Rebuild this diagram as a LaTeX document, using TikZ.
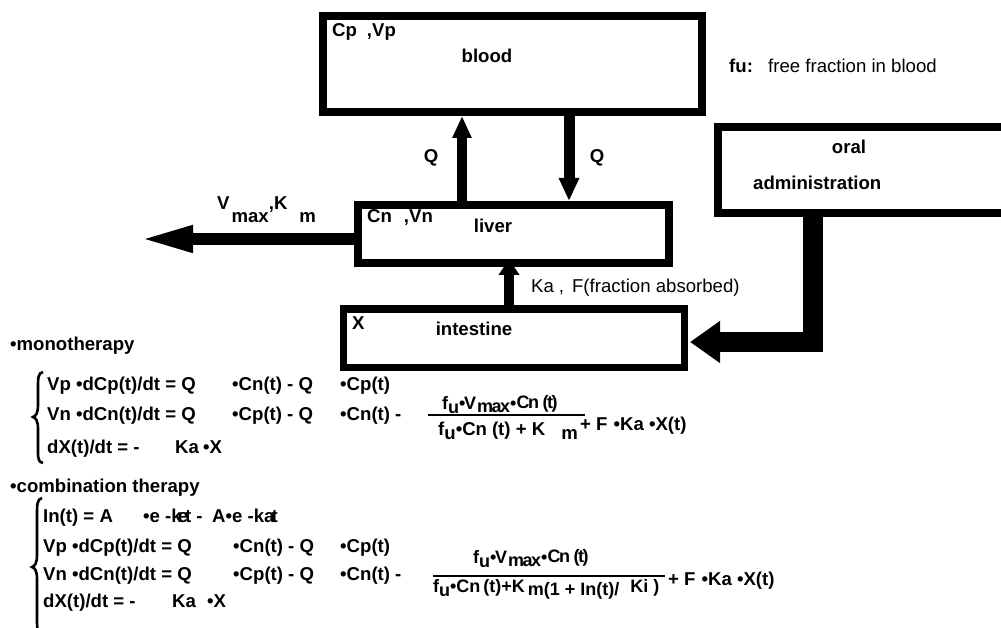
\documentclass[tikz,border=0pt]{standalone}
\usepackage{fontspec}
\setmainfont{Liberation Sans}
\usetikzlibrary{arrows.meta}
\newcommand{\lowr}[2]{\raisebox{-#1pt}{#2}}
\begin{document}
\begin{tikzpicture}[x=1pt,y=-1pt,
  comp/.style={draw, line width=8pt, inner sep=0pt},
  bt/.style={inner sep=0pt, anchor=base west, font=\fontsize{18.6}{21}\selectfont\bfseries},
  bc/.style={inner sep=0pt, anchor=base, font=\fontsize{18.6}{21}\selectfont\bfseries},
  rt/.style={inner sep=0pt, anchor=base west, font=\fontsize{18.6}{21}\selectfont},
  ft/.style={inner sep=0pt, anchor=base west, font=\fontsize{18}{21}\selectfont\bfseries\addfontfeatures{LetterSpace=-8}},
  fd/.style={inner sep=0pt, anchor=base west, font=\fontsize{18}{21}\selectfont\bfseries},
  brace/.style={line width=2.6pt},
  fbar/.style={line width=2pt}]
\useasboundingbox (0,0) rectangle (1001,628);
\clip (0,0) rectangle (1001,628);

% compartments
\node[comp, minimum width=379pt, minimum height=96pt] (blood) at (512.5,64) {};
\node[comp, minimum width=311pt, minimum height=58pt] (liver) at (513.5,234) {};
\node[comp, line width=7pt, minimum width=341pt, minimum height=58pt] (intestine) at (513.5,338) {};
\node[comp, minimum width=300pt, minimum height=86pt] (oral) at (868,170) {};

% helper coordinates
\coordinate (qupx) at (462,0);
\coordinate (qdnx) at (569,0);
\coordinate (vtip) at (138,239);
\coordinate (itip) at (509,259);
\coordinate (ox) at (813,0);
\coordinate (otip) at (690,342);

% flows
\draw[line width=10pt, -{Triangle[width=18pt,length=22pt]}] (liver.north -| qupx) -- (blood.south -| qupx);
\draw[line width=11pt, -{Triangle[width=19pt,length=23pt]}] (blood.south -| qdnx) -- (liver.north -| qdnx);
\draw[line width=12pt, -{Triangle[width=24pt,length=55pt]}] (liver.west |- vtip) -- (vtip);
\draw[line width=10pt, -{Triangle[width=20pt,length=16pt]}] (intestine.north -| itip) -- (itip);
\draw[line width=20pt, -{Triangle[width=40pt,length=30pt]}] (oral.south -| ox) -- (ox |- otip) -- (otip);

% diagram labels
\node[bt] (cpvp) at (332,37) {Cp\hspace{10pt},Vp};
\node[bc] (bloodlbl) at (487,63) {blood};
\node[bt] (fu) at (729,73) {fu:};
\node[rt] (fudef) at (768,73) {free fraction in blood};
\node[bc] (orallbl) at (849,154) {oral};
\node[bt] (adminlbl) at (753,190) {administration};
\node[bt] (cnvn) at (367,223) {Cn\hspace{12pt},Vn};
\node[bc] (liverlbl) at (493,233) {liver};
\node[bc] (qleft) at (431,163) {Q};
\node[bc] (qright) at (597,163) {Q};
\node[bt] (vmaxlbl) at (217,210) {V\hspace{2pt}\lowr{13}{max},K\hspace{12pt}\lowr{13}{m}};
\node[bt] (xlbl) at (352,330) {X};
\node[bc] (intlbl) at (474,335) {intestine};
\node[rt] (kalbl) at (531,293) {Ka\hspace{5pt},\hspace{8pt}F(fraction absorbed)};

% monotherapy
\node[bt] (mono) at (10,350) {•monotherapy};
\draw[brace] (43,372) .. controls (38,373) and (38,378) .. (38,388) -- (38,405) .. controls (38,413) and (36,416) .. (33,417) .. controls (36,418) and (38,421) .. (38,429) -- (38,452) .. controls (38,460) and (39,462) .. (43,463);
\node[bt] (m1a) at (47,390) {Vp •dCp(t)/dt = Q};
\node[bt] (m1b) at (232,390) {•Cn(t) - Q};
\node[bt] (m1c) at (340,390) {•Cp(t)};
\node[bt] (m2a) at (47,420) {Vn •dCn(t)/dt = Q};
\node[bt] (m2b) at (232,420) {•Cp(t) - Q};
\node[bt] (m2c) at (340,420) {•Cn(t) -};
\node[bt] (m3a) at (47,453) {dX(t)/dt = -};
\node[bt] (m3b) at (175,453) {Ka};
\node[bt] (m3c) at (203,453) {•X};
\node[ft] (mnum) at (442,409) {f\lowr{4}{u}•V\hspace{1pt}\lowr{3}{max}•\raisebox{1pt}{Cn (t)}};
\draw[fbar] (428,414.5) -- (585,414.5);
\node[bt] (mden) at (438,435) {f\lowr{4}{u}•Cn\hspace{5pt}(t) + K\hspace{16pt}\lowr{4}{m}};
\node[bt] (mtail) at (580,430) {+ F\hspace{6pt}•Ka •X(t)};

% combination therapy
\node[bt] (combo) at (10,492) {•combination therapy};
\draw[brace] (42,498) .. controls (37,499) and (37,505) .. (37,515) -- (37,555) .. controls (37,563) and (35,566) .. (32,567) .. controls (35,568) and (37,571) .. (37,579) -- (37,620) .. controls (37,630) and (38,635) .. (42,636);
\node[bt] (c1a) at (43,522) {In(t) = A};
\node[bt] (c1b) at (143,522) {•e -k\kern-4pt e\kern-3pt t -};
\node[bt] (c1c) at (212,522) {A•e -ka\kern-3pt t};
\node[bt] (c2a) at (43,552) {Vp •dCp(t)/dt = Q};
\node[bt] (c2b) at (233,552) {•Cn(t) - Q};
\node[bt] (c2c) at (340,552) {•Cp(t)};
\node[bt] (c3a) at (43,580) {Vn •dCn(t)/dt = Q};
\node[bt] (c3b) at (233,580) {•Cp(t) - Q};
\node[bt] (c3c) at (340,580) {•Cn(t) -};
\node[bt] (c4a) at (43,607) {dX(t)/dt = -};
\node[bt] (c4b) at (172,607) {Ka};
\node[bt] (c4c) at (207,607) {•X};
\node[ft] (cnum) at (473,563) {f\lowr{4}{u}•V\hspace{1pt}\lowr{3}{max}•\raisebox{1pt}{Cn (t)}};
\draw[fbar] (433,575.5) -- (665,575.5);
\node[fd] (cden) at (433,592) {f\lowr{4}{u}•Cn\hspace{3pt}(t)+K\hspace{3pt}\lowr{3}{m(1 + In(t)/}\hspace{11pt}Ki )};
\node[bt] (ctail) at (668,585) {+ F\hspace{6pt}•Ka •X(t)};
\end{tikzpicture}
\end{document}
